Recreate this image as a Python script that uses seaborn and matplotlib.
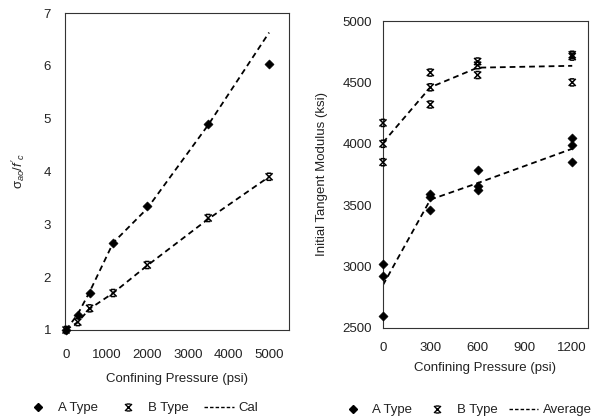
import numpy as np
import pandas as pd
import matplotlib
matplotlib.use("Agg")
import matplotlib.pyplot as plt
from matplotlib.path import Path
from matplotlib.lines import Line2D
import seaborn as sns

# ---- Left panel data ----
left_x_a = [0, 290, 580, 1160, 2000, 3500, 5000]
left_a = [1.0, 1.28, 1.70, 2.65, 3.35, 4.90, 6.03]
left_x_b = [0, 290, 580, 1160, 2000, 3500, 5000]
left_b = [1.0, 1.15, 1.41, 1.70, 2.23, 3.12, 3.90]
cal_x = [0, 290, 580, 1160, 2000, 3500, 5000]
cal_a = [1.0, 1.30, 1.72, 2.65, 3.30, 4.88, 6.63]
cal_b = [1.0, 1.15, 1.40, 1.70, 2.22, 3.10, 3.90]
left_xticks = [0, 1000, 2000, 3000, 4000, 5000]
left_yticks = [1, 2, 3, 4, 5, 6, 7]

# ---- Right panel data ----
right_x_a = [0, 0, 0, 300, 300, 300, 600, 600, 600, 1200, 1200, 1200]
right_a = [3020, 2920, 2600, 3590, 3570, 3460, 3790, 3660, 3620, 4050, 3990, 3850]
right_x_b = [0, 0, 0, 300, 300, 300, 600, 600, 600, 1200, 1200, 1200]
right_b = [4170, 4000, 3850, 4580, 4460, 4320, 4670, 4640, 4560, 4725, 4710, 4500]
avg_x = [0, 300, 600, 1200]
avg_a = [2850, 3545, 3680, 3960]
avg_b = [4010, 4460, 4620, 4635]
right_xticks = [0, 300, 600, 900, 1200]
right_yticks = [2500, 3000, 3500, 4000, 4500, 5000]

sns.set_style("white")
plt.rcParams['font.family'] = ['Liberation Sans', 'DejaVu Sans']
plt.rcParams['mathtext.fontset'] = 'custom'
plt.rcParams['mathtext.rm'] = 'Liberation Sans'
plt.rcParams['mathtext.it'] = 'Liberation Sans:italic'

# custom "x with caps" marker
bmark = Path([(-1, -1), (1, 1), (-1, 1), (1, -1), (-0.6, 1), (0.6, 1), (-0.6, -1), (0.6, -1)],
             [Path.MOVETO, Path.LINETO, Path.MOVETO, Path.LINETO,
              Path.MOVETO, Path.LINETO, Path.MOVETO, Path.LINETO])

fig = plt.figure(figsize=(5.98, 4.18), dpi=100)
ax1 = fig.add_axes([65/598, 88/418, 224/598, 317/418])
ax2 = fig.add_axes([383/598, 90/418, 205/598, 307/418])

txtc = '#222222'
dash = (3.2, 2.2)

def style(ax):
    for s in ax.spines.values():
        s.set_linewidth(0.8)
        s.set_color('#333333')
    ax.tick_params(length=0, labelsize=9.5, colors=txtc)

# Left
dfa = pd.DataFrame({'x': left_x_a, 'y': left_a})
dfb = pd.DataFrame({'x': left_x_b, 'y': left_b})
sns.lineplot(x=cal_x, y=cal_a, ax=ax1, color='black', lw=1.3, linestyle=(0, dash))
sns.lineplot(x=cal_x, y=cal_b, ax=ax1, color='black', lw=1.3, linestyle=(0, dash))
sns.scatterplot(data=dfb, x='x', y='y', ax=ax1, marker=bmark, s=26, facecolor='none',
                edgecolor='black', linewidth=1.1, clip_on=False, zorder=4)
sns.scatterplot(data=dfa, x='x', y='y', ax=ax1, marker='D', s=22, color='black', edgecolor='black', clip_on=False, zorder=5)
ax1.set_xlim(-25, 5490)
ax1.set_ylim(1, 7)
ax1.set_xticks(left_xticks)
ax1.set_yticks(left_yticks)
style(ax1)
ax1.tick_params(axis='x', pad=14)
ax1.tick_params(axis='y', pad=10)
ax1.set_xlabel('Confining Pressure (psi)', fontsize=9.5, color=txtc, labelpad=8)
ax1.set_ylabel(r"$\mathrm{\sigma}_{ao}/f'_c$", fontsize=9.5, color=txtc, labelpad=12)

# Right
dra = pd.DataFrame({'x': right_x_a, 'y': right_a})
drb = pd.DataFrame({'x': right_x_b, 'y': right_b})
sns.lineplot(x=avg_x, y=avg_a, ax=ax2, color='black', lw=1.3, linestyle=(0, dash))
sns.lineplot(x=avg_x, y=avg_b, ax=ax2, color='black', lw=1.3, linestyle=(0, dash))
sns.scatterplot(data=drb, x='x', y='y', ax=ax2, marker=bmark, s=26, facecolor='none',
                edgecolor='black', linewidth=1.1, clip_on=False, zorder=4)
sns.scatterplot(data=dra, x='x', y='y', ax=ax2, marker='D', s=22, color='black', edgecolor='black', clip_on=False, zorder=5)
ax2.set_xlim(0, 1300)
ax2.set_ylim(2500, 5000)
ax2.set_xticks(right_xticks)
ax2.set_yticks(right_yticks)
style(ax2)
ax2.tick_params(axis='x', pad=10)
ax2.tick_params(axis='y', pad=8)
ax2.set_xlabel('Confining Pressure (psi)', fontsize=9.5, color=txtc, labelpad=6)
ax2.set_ylabel('Initial Tangent Modulus (ksi)', fontsize=9.5, color=txtc, labelpad=10)

def handles(last):
    return [Line2D([], [], marker='D', ms=4.5, color='black', ls='none'),
            Line2D([], [], marker=bmark, ms=5, color='black', ls='none', mew=1.0),
            Line2D([], [], color='black', lw=1.0, linestyle=(0, (2.5, 1.5)))], ['A Type', 'B Type', last]

h, l = handles('Cal')
fig.legend(h, l, loc='center', bbox_to_anchor=(141/598, 1 - 408/418), ncol=3, frameon=False,
           fontsize=9.5, handlelength=2.2, handletextpad=0.4, columnspacing=1.2, labelcolor=txtc)
h, l = handles('Average')
fig.legend(h, l, loc='center', bbox_to_anchor=(465/598, 1 - 410/418), ncol=3, frameon=False,
           fontsize=9.5, handlelength=2.2, handletextpad=0.4, columnspacing=0.8, labelcolor=txtc)

fig.savefig('out.png', dpi=100)
